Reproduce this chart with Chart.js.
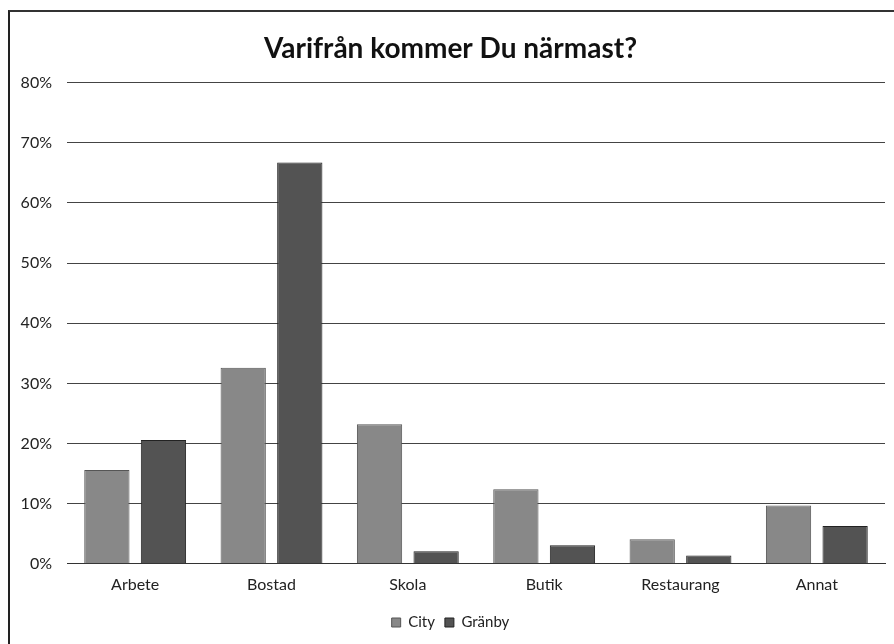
<!DOCTYPE html>
<html>
<head>
<meta charset="utf-8">
<script src="https://cdn.jsdelivr.net/npm/chart.js@4"></script>
<style>
  html, body { margin: 0; padding: 0; background: #fff; }
  #wrap { position: relative; width: 894px; height: 644px; }
  #frame {
    position: absolute; left: 8px; top: 10px; right: 0; bottom: 0;
    border-left: 2px solid #222; border-top: 2px solid #333;
    pointer-events: none;
  }
</style>
</head>
<body>
<div id="wrap">
  <canvas id="grafico" width="894" height="644"></canvas>
  <div id="frame"></div>
</div>
<script>
const kategorier = ['Arbete', 'Bostad', 'Skola', 'Butik', 'Restaurang', 'Annat'];
const city = [15.6, 32.6, 23.2, 12.4, 4.1, 9.7];
const granby = [20.6, 66.7, 2.1, 3.1, 1.4, 6.3];
const yMax = 80;
const yStep = 10;

const font = "'Lato', 'Open Sans', sans-serif";

const ctx = document.getElementById('grafico').getContext('2d');
new Chart(ctx, {
    type: 'bar',
    data: {
        labels: kategorier,
        datasets: [{
            label: 'City',
            data: city,
            backgroundColor: '#888',
            borderColor: '#555',
            borderWidth: 1
        }, {
            label: 'Gränby',
            data: granby,
            backgroundColor: '#535353',
            borderColor: '#222',
            borderWidth: 1
        }]
    },
    options: {
        responsive: false,
        animation: false,
        categoryPercentage: 0.83,
        barPercentage: 0.8,
        layout: { padding: { left: 16, right: 9, top: 32, bottom: 4 } },
        plugins: {
            title: {
                display: true,
                text: 'Varifrån kommer Du närmast?',
                color: '#111',
                font: { family: font, size: 28, weight: 'bold' },
                padding: { top: 0, bottom: 17 }
            },
            legend: {
                position: 'bottom',
                labels: {
                    color: '#222',
                    font: { family: font, size: 15 },
                    boxWidth: 9,
                    boxHeight: 9,
                    padding: 10
                }
            },
            tooltip: { enabled: false }
        },
        scales: {
            x: {
                grid: { display: false, drawTicks: false },
                border: { color: '#333', width: 1 },
                ticks: {
                    color: '#222',
                    font: { family: font, size: 16 },
                    padding: 11
                }
            },
            y: {
                min: 0,
                max: yMax,
                afterFit: (s) => { s.width = 51; },
                grid: { color: '#444', drawTicks: false },
                border: { display: false },
                ticks: {
                    stepSize: yStep,
                    color: '#222',
                    font: { family: font, size: 16 },
                    padding: 15,
                    callback: (v) => v + '%'
                }
            }
        }
    }
});
</script>
</body>
</html>
